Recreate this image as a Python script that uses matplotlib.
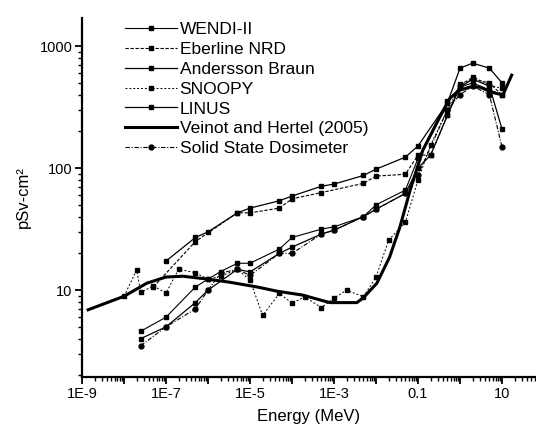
import matplotlib
matplotlib.use("Agg")
import matplotlib.pyplot as plt
from matplotlib.ticker import FixedLocator, FixedFormatter, LogLocator, NullFormatter

plt.rcParams["font.family"] = ["Liberation Sans", "DejaVu Sans"]

# energies in MeV, responses in pSv-cm2
wendi_e = [2.5e-8, 1e-7, 5e-7, 1e-6, 2e-6, 5e-6, 1e-5, 5e-5, 1e-4, 5e-4, 1e-3,
           5e-3, 0.01, 0.05, 0.1, 0.5, 1, 2, 5, 10]
wendi_y = [4.6, 6.0, 10.6, 12.3, 14.2, 16.6, 16.6, 21.7, 27, 31.6, 33,
           40, 50, 66, 120, 354, 461, 500, 436, 400]

eberline_e = [5e-8, 5e-7, 5e-6, 1e-5, 5e-5, 1e-4, 5e-4, 5e-3, 0.01, 0.05,
              0.1, 0.2, 0.5, 1, 2, 5, 10]
eberline_y = [10.6, 25, 43, 43, 47, 56, 63, 75, 86, 89,
              128, 128, 270, 490, 536, 500, 397]

andersson_e = [1e-7, 5e-7, 1e-6, 5e-6, 1e-5, 5e-5, 1e-4, 5e-4, 1e-3, 5e-3,
               0.01, 0.05, 0.1, 0.5, 1, 2, 5, 10]
andersson_y = [17.3, 27, 30, 43, 47, 54, 59, 71, 74, 87,
               98, 123, 152, 341, 660, 725, 660, 500]

snoopy_e = [1e-8, 2e-8, 2.5e-8, 5e-8, 1e-7, 2e-7, 5e-7, 1e-6, 2e-6, 5e-6,
            1e-5, 2e-5, 5e-5, 1e-4, 2e-4, 5e-4, 1e-3, 2e-3, 5e-3, 0.01,
            0.02, 0.05, 0.1, 0.2, 0.5, 1, 2, 5, 10]
snoopy_y = [8.9, 14.6, 9.6, 10.8, 9.5, 14.8, 13.9, 12.3, 13.0, 14.8,
            12.1, 6.2, 9.4, 7.8, 8.8, 7.2, 8.6, 10, 8.8, 12.8,
            25.7, 36, 80, 155, 300, 470, 560, 480, 450]

linus_e = [2.5e-8, 1e-7, 5e-7, 1e-6, 5e-6, 1e-5, 5e-5, 1e-4, 5e-4, 1e-3,
           5e-3, 0.01, 0.05, 0.1, 0.2, 0.5, 1, 2, 5, 10]
linus_y = [4.0, 5.0, 7.9, 10, 14.8, 14.1, 20, 22.5, 28.8, 31,
           40, 46, 62, 100, 128, 270, 461, 536, 470, 209]

veinot_e = [1.4e-9, 1e-8, 3.5e-8, 1e-7, 2.5e-7, 1e-6, 3.3e-6, 1.5e-5, 4.4e-5,
            1.8e-4, 4.7e-4, 8e-4, 3.5e-3, 4.9e-3, 0.0105, 0.021, 0.037, 0.065,
            0.13, 0.33, 0.58, 1.0, 1.7, 3.0, 4.4, 6.8, 10.5, 17]
veinot_y = [6.9, 8.9, 11.4, 12.8, 13.0, 12.3, 11.6, 10.6, 9.8,
            9.1, 8.3, 7.9, 7.9, 8.6, 11.4, 18.6, 32.8, 66,
            140, 262, 375, 436, 461, 461, 436, 412, 398, 578]

ssd_e = [2.5e-8, 1e-7, 5e-7, 1e-6, 2e-6, 5e-6, 1e-5, 5e-5, 1e-4, 5e-4,
         1e-3, 5e-3, 0.01, 0.05, 0.1, 0.5, 1, 2, 5, 10]
ssd_y = [3.5, 5.0, 7.0, 10, 13.8, 14.8, 13.2, 20, 20, 28.8,
         31, 40, 46, 62, 88, 300, 400, 470, 400, 149]

x_ticks = [1e-9, 1e-8, 1e-7, 1e-6, 1e-5, 1e-4, 1e-3, 1e-2, 0.1, 1, 10]
x_labels = ["1E-9", "", "1E-7", "", "1E-5", "", "1E-3", "", "0.1", "", "10"]
y_ticks = [10, 100, 1000]
y_labels = ["10", "100", "1000"]

fig = plt.figure(figsize=(5.36, 4.28), dpi=100)
ax = fig.add_axes([82 / 536, 1 - 377 / 428, 453 / 536, 359 / 428])

ms = 3.5
ax.plot(wendi_e, wendi_y, color="black", lw=0.8, ls="-", marker="s", ms=ms,
        label="WENDI-II")
ax.plot(eberline_e, eberline_y, color="black", lw=0.8, ls=(0, (3, 1.5)),
        marker="s", ms=ms, label="Eberline NRD")
ax.plot(andersson_e, andersson_y, color="black", lw=0.9, ls="-", marker="s",
        ms=ms, label="Andersson Braun")
ax.plot(snoopy_e, snoopy_y, color="black", lw=0.7, ls=(0, (2, 2)),
        marker="s", ms=3, label="SNOOPY")
ax.plot(linus_e, linus_y, color="black", lw=0.9, ls="-", marker="s", ms=ms,
        label="LINUS")
ax.plot(veinot_e, veinot_y, color="black", lw=2.2, ls="-",
        label="Veinot and Hertel (2005)")
ax.plot(ssd_e, ssd_y, color="black", lw=0.8, ls=(0, (4, 1.5, 1, 1.5)),
        marker="o", ms=ms, label="Solid State Dosimeter")

ax.set_xscale("log")
ax.set_yscale("log")
ax.set_xlim(1e-9, 61)
ax.set_ylim(1.94, 1700)

ax.xaxis.set_major_locator(FixedLocator(x_ticks))
ax.xaxis.set_major_formatter(FixedFormatter(x_labels))
ax.xaxis.set_minor_locator(LogLocator(base=10, subs=range(2, 10), numticks=30))
ax.xaxis.set_minor_formatter(NullFormatter())
ax.yaxis.set_major_locator(FixedLocator(y_ticks))
ax.yaxis.set_major_formatter(FixedFormatter(y_labels))
ax.yaxis.set_minor_locator(LogLocator(base=10, subs=range(2, 10), numticks=30))
ax.yaxis.set_minor_formatter(NullFormatter())

ax.spines["top"].set_visible(False)
ax.spines["right"].set_visible(False)
ax.spines["left"].set_linewidth(1.6)
ax.spines["bottom"].set_linewidth(1.6)
ax.tick_params(which="major", direction="out", length=5, width=1.3,
               labelsize=10.5, pad=2)
ax.tick_params(which="minor", direction="out", length=3, width=1.0)

ax.set_xlabel("Energy (MeV)", fontsize=12, labelpad=6)
ax.set_ylabel("pSv-cm²", fontsize=12, labelpad=6)

ax.legend(loc="upper left", bbox_to_anchor=(125 / 536, 1 - 22 / 428),
          bbox_transform=fig.transFigure, frameon=False, fontsize=12.5,
          handlelength=3.0, handletextpad=0.15, labelspacing=0.27,
          borderpad=0, borderaxespad=0)

fig.savefig("out.png", dpi=100)
plt.close(fig)
